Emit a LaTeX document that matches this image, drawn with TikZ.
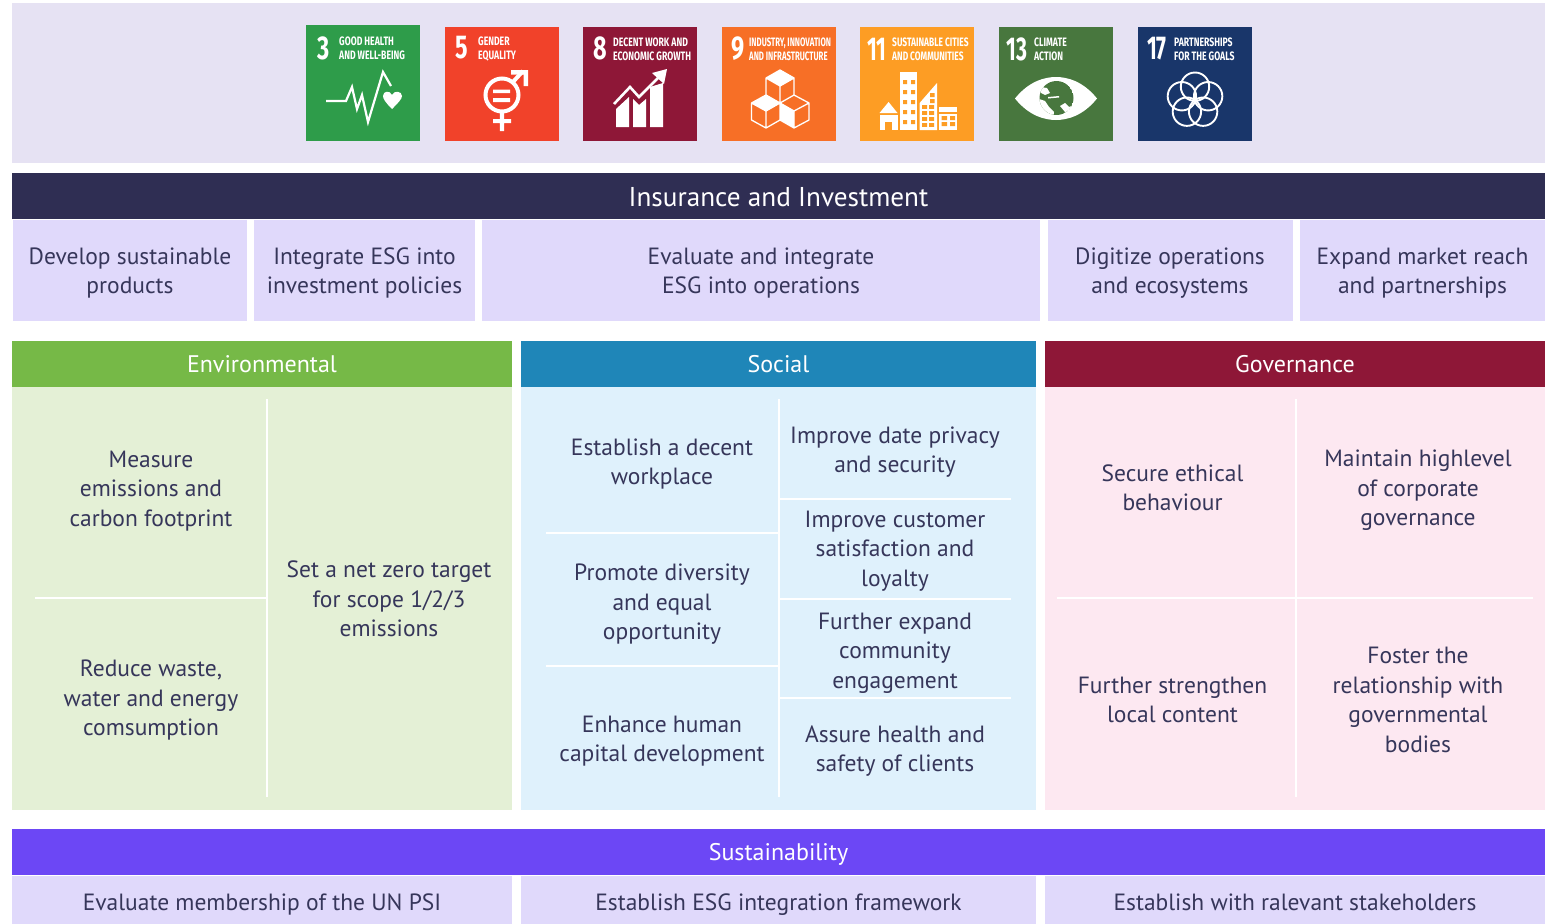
\documentclass[tikz,border=0pt]{standalone}
\usepackage{fontspec}
\usepackage{graphicx}
\setmainfont{PT Sans}
\newfontfamily\sdgfont{Fira Sans}
\definecolor{band}{HTML}{E6E2F3}
\definecolor{navy}{HTML}{2F2E53}
\definecolor{lilac}{HTML}{E0D9FB}
\definecolor{inkc}{HTML}{36365A}
\definecolor{envh}{HTML}{76B947}
\definecolor{envp}{HTML}{E4F0D6}
\definecolor{soch}{HTML}{1F86B8}
\definecolor{socp}{HTML}{DFF1FC}
\definecolor{govh}{HTML}{8E1737}
\definecolor{govp}{HTML}{FDE8F1}
\definecolor{sush}{HTML}{6C47F5}
\definecolor{sdga}{HTML}{2E9C4A}
\definecolor{sdgb}{HTML}{F1422A}
\definecolor{sdgc}{HTML}{8E1737}
\definecolor{sdgd}{HTML}{F76F26}
\definecolor{sdge}{HTML}{FD9D24}
\definecolor{sdgf}{HTML}{48773E}
\definecolor{sdgg}{HTML}{19366A}
\newcommand{\bodyf}{\fontsize{23.5}{29.4}\selectfont}
\newcommand{\headf}{\fontsize{24}{29}\selectfont}
\newcommand{\bigf}{\fontsize{27.2}{30}\selectfont}
% \panel{name}{x1}{y1}{x2}{y2}{colour}
\newcommand{\panel}[6]{\path[fill=#6] (#2,#3) rectangle (#4,#5) node[midway,inner sep=0pt] (#1) {};}
\tikzset{
  evenbox/.style={execute at begin node={\rule{0pt}{17pt}},execute at end node={\rule[-6pt]{0pt}{6pt}},yshift=-2.7pt},
  body/.style={font=\bodyf,text=inkc,align=center,inner sep=0pt,evenbox},
  head/.style={font=\headf,text=white,align=center,inner sep=0pt,evenbox},
  sep/.style={draw=white,line width=2.3pt,line cap=butt},
  num/.style={font=\sdgfont\bfseries\fontsize{33}{33}\selectfont,text=white,inner sep=0pt},
  lab/.style={font=\sdgfont\bfseries\fontsize{12.2}{13.9}\selectfont,text=white,inner sep=0pt,align=left,anchor=west},
  ic/.style={draw=white,line width=2.2pt,line join=miter},
}
\newcommand{\nar}[1]{\scalebox{.71}[1]{#1}}
\newcommand{\narn}[1]{\scalebox{.64}[1]{#1}}
\begin{document}
\begin{tikzpicture}[x=1pt,y=-1pt]
\useasboundingbox (0,0) rectangle (1551,924);
\fill[white] (0,0) rectangle (1551,924);
\panel{topband}{12}{3}{1545}{163}{band}
% SDG tiles
\panel{tA}{306}{25}{420}{141}{sdga}
\panel{tB}{445}{27}{559}{141}{sdgb}
\panel{tC}{583}{27}{697}{141}{sdgc}
\panel{tD}{722}{27}{836}{141}{sdgd}
\panel{tE}{860}{27}{974}{141}{sdge}
\panel{tF}{999}{27}{1113}{141}{sdgf}
\panel{tG}{1138}{27}{1252}{141}{sdgg}
% 3
\begin{scope}[shift={(306,25)}]
\node[num] (nA) at (18,23) {\nar{3}};
\node[lab] (lA) at (33,23.5) {\nar{GOOD HEALTH}\\\nar{AND WELL-BEING}};
\draw[ic] (20,76) -- (40,76) -- (46,62) -- (51,84) -- (56,70) -- (62,97) -- (77,47) -- (85,61);
\fill[white] (86,84) .. controls (80,78) and (77,74) .. (77,71) .. controls (77,66) and (84,65) .. (86,70) .. controls (88,65) and (96,66) .. (96,71) .. controls (96,74) and (92,78) .. (86,84) -- cycle;
\end{scope}
% 5
\begin{scope}[shift={(445,27)}]
\node[num] (nB) at (17,21) {\nar{5}};
\node[lab] (lB) at (33,22) {\nar{GENDER}\\\nar{EQUALITY}};
\draw[white,line width=4pt] (57,68) circle (16.5);
\fill[white] (48,62.5) rectangle (65,66) (48,71) rectangle (65,75);
\fill[white] (54.8,84) rectangle (59.2,104) (48,92) rectangle (66,96);
\draw[white,line width=4pt] (67,56) -- (78,44);
\fill[white] (66,43) -- (83,43) -- (83,59) -- (78.5,59) -- (78.5,47.5) -- (66,47.5) -- cycle;
\end{scope}
% 8
\begin{scope}[shift={(583,27)}]
\node[num] (nC) at (17,21) {\nar{8}};
\node[lab] (lC) at (30,22) {\nar{DECENT WORK AND}\\\nar{ECONOMIC GROWTH}};
\fill[white] (33,82) -- (46,70) -- (46,100) -- (33,100) -- cycle;
\fill[white] (50,72) -- (56,78) -- (63,72) -- (63,100) -- (50,100) -- cycle;
\fill[white] (67,60) -- (80,56) -- (80,100) -- (67,100) -- cycle;
\draw[white,line width=2.6pt] (31,77) -- (47,60) -- (56,70) -- (78,48);
\fill[white] (69,46) -- (84,42) -- (81,57) -- cycle;
\end{scope}
% 9
\begin{scope}[shift={(722,27)},ic/.append style={line width=1.3pt,line join=round}]
\node[num] (nD) at (16,22) {\nar{9}};
\node[lab] (lD) at (27,22) {\narn{INDUSTRY, INNOVATION}\\\narn{AND INFRASTRUCTURE}};
\fill[white] (58,43) -- (72,51) -- (58,59) -- (44,51) -- cycle;
\fill[white] (44,68) -- (58,76) -- (44,84) -- (29.5,76) -- cycle;
\fill[white] (58,76) -- (72,84) -- (72,101) -- (58,93) -- cycle;
\draw[ic] (58,43) -- (72,51) -- (72,68) -- (58,76) -- (44,68) -- (44,51) -- cycle (44,51) -- (58,59) -- (72,51) (58,59) -- (58,76);
\draw[ic] (44,68) -- (29.5,76) -- (29.5,93) -- (44,101) -- (58,93) -- (58,76) (29.5,76) -- (44,84) -- (58,76) (44,84) -- (44,101);
\draw[ic] (58,76) -- (72,84) -- (72,101) -- (58,93) (72,68) -- (87,76) -- (87,93) -- (72,101) (72,84) -- (87,76);
\end{scope}
% 11
\begin{scope}[shift={(860,27)}]
\node[num] (nE) at (17,22) {\narn{11}};
\node[lab] (lE) at (32,22) {\scalebox{.69}[1]{SUSTAINABLE CITIES}\\\scalebox{.69}[1]{AND COMMUNITIES}};
\fill[white] (19.5,86) -- (28.6,75) -- (37.5,86) -- cycle;
\fill[white] (19.5,88) rectangle (37.5,103);
\fill[sdge] (25,95) rectangle (32,103);
\fill[white] (40,45) rectangle (57,103);
\foreach \yy in {53,63,73,83,93}{\fill[sdge] (43,\yy) rectangle (47,\yy+4) (51,\yy) rectangle (55,\yy+4);}
\fill[white] (59.6,76) -- (77,56) -- (77,103) -- (59.6,103) -- cycle;
\foreach \yy in {78,84,90,96}{\fill[sdge] (62,\yy) rectangle (67,\yy+3.8) (69,\yy) rectangle (74,\yy+3.8);}
\fill[sdge] (70,66) rectangle (74.5,70) (70,72) rectangle (74.5,76);
\fill[white] (79,80) rectangle (97,103);
\fill[sdge] (79,84.5) rectangle (97,86.5);
\fill[sdge] (81.5,89) rectangle (87,93) (90,89) rectangle (95,93) (81.5,95) rectangle (87,99) (90,95) rectangle (95,99);
\end{scope}
% 13
\begin{scope}[shift={(999,27)}]
\node[num] (nF) at (18,22) {\narn{13}};
\node[lab] (lF) at (35,22) {\nar{CLIMATE}\\\nar{ACTION}};
\fill[white] (16,71.5) .. controls (30,54) and (46,50) .. (57,50) .. controls (68,50) and (84,54) .. (98,71.5) .. controls (84,89) and (68,93) .. (57,93) .. controls (46,93) and (30,89) .. (16,71.5) -- cycle;
\begin{scope}
\clip (57.5,71) circle (17);
\fill[sdgf] (57.5,71) circle (17);
\fill[white] (40,72) -- (46,74) -- (50,80) -- (55,85) -- (54,92) -- (40,92) -- cycle;
\fill[white] (42,60) -- (48,61) -- (51,66) -- (46,68) -- (42,66) -- cycle;
\fill[white] (61,79) -- (66,76) -- (70,80) -- (75,78) -- (76,92) -- (64,92) -- (66,85) -- cycle;
\fill[white] (49,70) -- (60,69) -- (60,70.5) -- (49,71.5) -- cycle;
\end{scope}
\end{scope}
% 17
\begin{scope}[shift={(1138,27)}]
\node[num] (nG) at (19,22) {\narn{17}};
\node[lab] (lG) at (36,22) {\nar{PARTNERSHIPS}\\\nar{FOR THE GOALS}};
\foreach \aa in {90,162,234,306,18}{\draw[white,line width=1.9pt] ({57+13.8*cos(\aa)},{73.5-13.8*sin(\aa)}) circle (14.2);}
\end{scope}
% Insurance block
\panel{ins}{12}{173}{1545}{219}{navy}
\node[head,font=\bigf] (insT) at (778.5,197) {Insurance and Investment};
\panel{iA}{13}{220}{247}{321}{lilac}
\panel{iB}{254}{220}{475}{321}{lilac}
\panel{iC}{482}{220}{1040}{321}{lilac}
\panel{iD}{1048}{220}{1293}{321}{lilac}
\panel{iE}{1300}{220}{1545}{321}{lilac}
\node[body] (iAt) at (130,271) {Develop sustainable\\products};
\node[body] (iBt) at (364.5,271) {Integrate ESG into\\investment policies};
\node[body] (iCt) at (761,271) {Evaluate and integrate\\ESG into operations};
\node[body] (iDt) at (1170,271) {Digitize operations\\and ecosystems};
\node[body] (iEt) at (1422.5,271) {Expand market reach\\and partnerships};
% ESG panels
\panel{envP}{12}{387}{512}{810}{envp}
\panel{socP}{521}{387}{1036}{810}{socp}
\panel{govP}{1045}{387}{1545}{810}{govp}
\panel{envH}{12}{341}{512}{387}{envh}
\panel{socH}{521}{341}{1036}{387}{soch}
\panel{govH}{1045}{341}{1545}{387}{govh}
\node[head] (envT) at (262,364) {Environmental};
\node[head] (socT) at (778.5,364) {Social};
\node[head] (govT) at (1295,364) {Governance};
% separators
\coordinate (a1) at (267,399); \coordinate (a2) at (267,797);
\coordinate (a3) at (35,598);  \coordinate (a4) at (267,598);
\draw[sep] (a1) -- (a2); \draw[sep] (a3) -- (a4);
\coordinate (b1) at (779,399); \coordinate (b2) at (779,797);
\draw[sep] (b1) -- (b2);
\coordinate (b3) at (546,533); \coordinate (b4) at (778,533);
\coordinate (b5) at (546,666); \coordinate (b6) at (778,666);
\draw[sep] (b3) -- (b4); \draw[sep] (b5) -- (b6);
\coordinate (b7) at (779,499); \coordinate (b8) at (1011,499);
\coordinate (b9) at (779,599); \coordinate (b10) at (1011,599);
\coordinate (b11) at (779,698); \coordinate (b12) at (1011,698);
\draw[sep] (b7) -- (b8); \draw[sep] (b9) -- (b10); \draw[sep] (b11) -- (b12);
\coordinate (c1) at (1296,399); \coordinate (c2) at (1296,797);
\coordinate (c3) at (1057,598); \coordinate (c4) at (1533,598);
\draw[sep] (c1) -- (c2); \draw[sep] (c3) -- (c4);
% cells
\node[body] (e1) at (151,489) {Measure\\emissions and\\carbon footprint};
\node[body] (e2) at (151,698) {Reduce waste,\\water and energy\\comsumption};
\node[body] (e3) at (389,599) {Set a net zero target\\for scope 1/2/3\\emissions};
\node[body] (s1) at (662,462) {Establish a decent\\workplace};
\node[body] (s2) at (662,602) {Promote diversity\\and equal\\opportunity};
\node[body] (s3) at (662,739) {Enhance human\\capital development};
\node[body] (s4) at (895,450) {Improve date privacy\\and security};
\node[body] (s5) at (895,549) {Improve customer\\satisfaction and\\loyalty};
\node[body] (s6) at (895,651) {Further expand\\community\\engagement};
\node[body] (s7) at (895,749) {Assure health and\\safety of clients};
\node[body] (g1) at (1172.5,488) {Secure ethical\\behaviour};
\node[body] (g2) at (1172.5,700) {Further strengthen\\local content};
\node[body] (g3) at (1418,488) {Maintain highlevel\\of corporate\\governance};
\node[body] (g4) at (1418,700) {Foster the\\relationship with\\governmental\\bodies};
% Sustainability
\panel{sus}{12}{829}{1545}{875}{sush}
\node[head] (susT) at (778.5,852) {Sustainability};
\panel{uA}{12}{876}{512}{924}{lilac}
\panel{uB}{521}{876}{1036}{924}{lilac}
\panel{uC}{1045}{876}{1545}{924}{lilac}
\node[body] (uAt) at (262,902) {Evaluate membership of the UN PSI};
\node[body] (uBt) at (778.5,902) {Establish ESG integration framework};
\node[body] (uCt) at (1295,902) {Establish with ralevant stakeholders};
\end{tikzpicture}
\end{document}
